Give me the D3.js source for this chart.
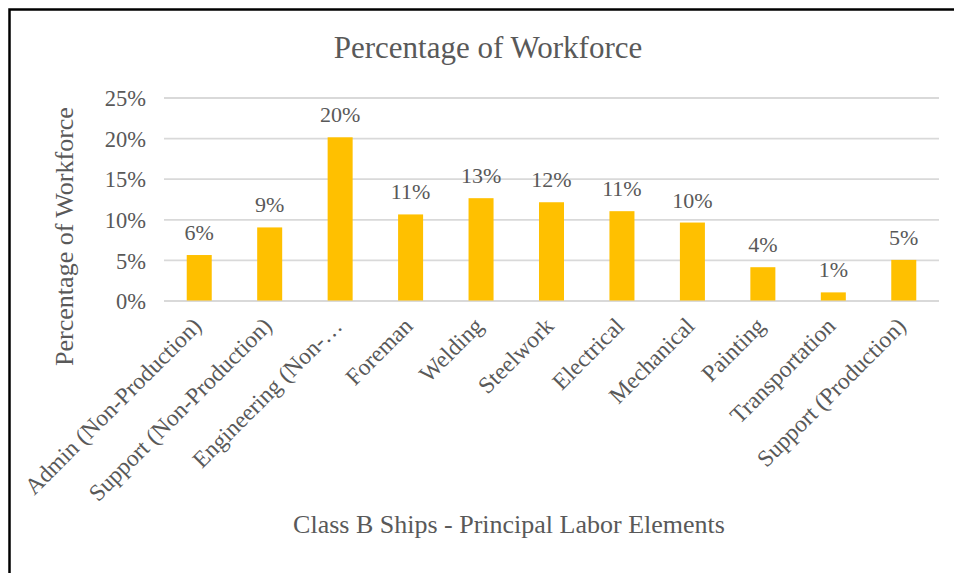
<!DOCTYPE html>
<html>
<head>
<meta charset="utf-8">
<script src="https://cdn.jsdelivr.net/npm/d3@7"></script>
<style>
  html, body { margin: 0; padding: 0; background: #fff; }
  svg { display: block; }
  svg text { font-family: "Liberation Serif", "Times New Roman", serif; fill: #595959; }
</style>
</head>
<body>
<svg id="chart" width="954" height="573"></svg>
<script>
// Share of the workforce by principal labor element (Class B ships)
const categories = [
  "Admin (Non-Production)", "Support (Non-Production)", "Engineering (Non-Production)",
  "Foreman", "Welding", "Steelwork", "Electrical", "Mechanical",
  "Painting", "Transportation", "Support (Production)"
];
const tickLabels = [
  "Admin (Non-Production)", "Support (Non-Production)", "Engineering (Non-…",
  "Foreman", "Welding", "Steelwork", "Electrical", "Mechanical",
  "Painting", "Transportation", "Support (Production)"
];
const shares = [0.056, 0.090, 0.201, 0.106, 0.126, 0.121, 0.110, 0.096, 0.041, 0.010, 0.050];
const yTicks = [0, 0.05, 0.10, 0.15, 0.20, 0.25];

const chartTitle = "Percentage of Workforce";
const yTitle = "Percentage of Workforce";
const xTitle = "Class B Ships - Principal Labor Elements";

const W = 954, H = 573;
const plot = { left: 164, right: 939, top: 97.5, bottom: 300.5 };

const svg = d3.select("#chart");

// outer frame (left and top edges visible)
svg.append("path")
  .attr("d", `M9.5,${H} L9.5,9.5 L${W},9.5`)
  .attr("fill", "none")
  .attr("stroke", "#000")
  .attr("stroke-width", 2.5);

const x = d3.scaleBand()
  .domain(categories)
  .range([plot.left, plot.right])
  .paddingInner(0.645)
  .paddingOuter(0.3225);

const y = d3.scaleLinear()
  .domain([0, 0.25])
  .range([plot.bottom, plot.top]);

const pct = d3.format(".0%");

// horizontal gridlines + tick labels
const yAxis = d3.axisLeft(y)
  .tickValues(yTicks)
  .tickFormat(pct)
  .tickSize(-(plot.right - plot.left))
  .tickPadding(18);

const gy = svg.append("g")
  .attr("transform", `translate(${plot.left},0)`)
  .call(yAxis);
gy.attr("font-family", null);
gy.select(".domain").remove();
gy.selectAll(".tick line")
  .attr("stroke", "#d9d9d9")
  .attr("stroke-width", 1.8);
gy.selectAll(".tick text")
  .attr("font-size", 22.5)
  .attr("dy", "0.36em")
  .attr("fill", "#595959");

// bars
svg.append("g").selectAll("rect")
  .data(categories)
  .join("rect")
  .attr("x", d => x(d))
  .attr("width", x.bandwidth())
  .attr("y", (d, i) => y(shares[i]))
  .attr("height", (d, i) => y(0) - y(shares[i]))
  .attr("fill", "#ffc000");

// value labels
svg.append("g").selectAll("text")
  .data(categories)
  .join("text")
  .attr("x", d => x(d) + x.bandwidth() / 2)
  .attr("y", (d, i) => y(shares[i]) - 15)
  .attr("text-anchor", "middle")
  .attr("font-size", 22)
  .text((d, i) => pct(shares[i]));

// category axis (rotated labels)
const xAxis = d3.axisBottom(x)
  .tickSize(0)
  .tickFormat((d, i) => tickLabels[i]);

const gx = svg.append("g")
  .attr("transform", `translate(0,${plot.bottom})`)
  .call(xAxis);
gx.attr("font-family", null);
gx.select(".domain").remove();
gx.selectAll(".tick text")
  .attr("font-size", 23.5)
  .attr("text-anchor", "end")
  .attr("dy", null)
  .attr("y", null)
  .attr("transform", "translate(3.5,27) rotate(-45)")
  .attr("fill", "#595959");

// titles
svg.append("text")
  .attr("x", 488)
  .attr("y", 58)
  .attr("text-anchor", "middle")
  .attr("font-size", 31)
  .text(chartTitle);

svg.append("text")
  .attr("transform", "translate(73,236.5) rotate(-90)")
  .attr("text-anchor", "middle")
  .attr("font-size", 26)
  .text(yTitle);

svg.append("text")
  .attr("x", 509)
  .attr("y", 533)
  .attr("text-anchor", "middle")
  .attr("font-size", 26)
  .text(xTitle);
</script>
</body>
</html>
